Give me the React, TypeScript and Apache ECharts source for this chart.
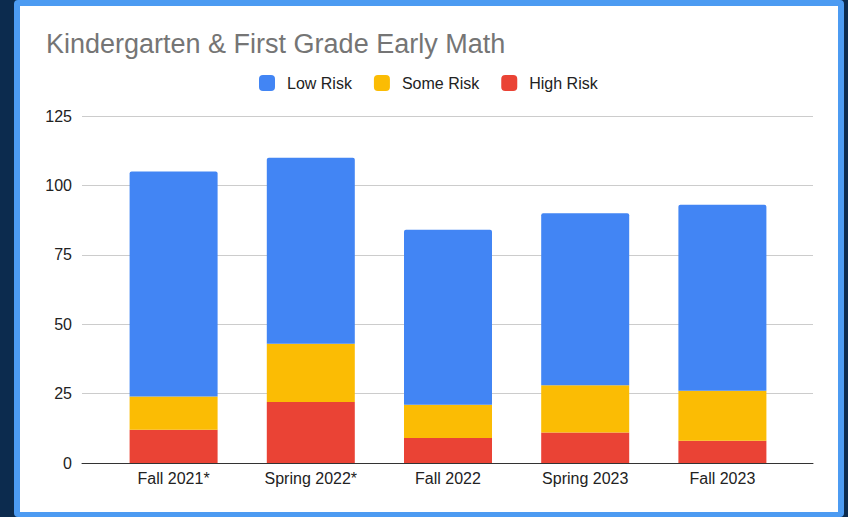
import React, { useEffect, useRef } from "react";
import * as echarts from "echarts";

const categories = ["Fall 2021*", "Spring 2022*", "Fall 2022", "Spring 2023", "Fall 2023"];
const highRisk = [12, 22, 9, 11, 8];
const someRisk = [12, 21, 12, 17, 18];
const lowRisk = [81, 67, 63, 62, 67];
const yTicks = [0, 25, 50, 75, 100, 125];

const FONT = "'Liberation Sans', Arial, sans-serif";

export default function App() {
  const ref = useRef<HTMLDivElement>(null);
  useEffect(() => {
    document.body.style.margin = "0";
    const chart = echarts.init(ref.current!, null, { renderer: "svg" });
    const yMin = yTicks[0];
    const yMax = yTicks[yTicks.length - 1];
    const yInt = yTicks[1] - yTicks[0];
    chart.setOption({
      animation: false,
      title: {
        text: "Kindergarten & First Grade Early Math",
        left: 46,
        top: 30,
        padding: 0,
        textStyle: { fontFamily: FONT, fontSize: 27, fontWeight: "normal", color: "#757575" },
      },
      legend: {
        left: 259,
        top: 75,
        padding: 0,
        itemWidth: 16,
        itemHeight: 16,
        itemGap: 22,
        icon: "roundRect",
        data: ["Low Risk", "Some Risk", "High Risk"],
        textStyle: { fontFamily: FONT, fontSize: 16, color: "#222222", padding: [0, 0, 0, 7] },
      },
      grid: [
        { left: 82, width: 731, top: 116, height: 347, containLabel: false },
        { left: 105, width: 686, top: 116, height: 347, containLabel: false },
      ],
      xAxis: [
        {
          type: "category",
          gridIndex: 0,
          data: categories,
          axisLine: { show: true, lineStyle: { color: "#333333", width: 1 } },
          axisTick: { show: false },
          axisLabel: { show: false },
          splitLine: { show: false },
        },
        {
          type: "category",
          gridIndex: 1,
          data: categories,
          axisLine: { show: false },
          axisTick: { show: false },
          axisLabel: { fontFamily: FONT, fontSize: 16, color: "#222222", margin: 7 },
        },
      ],
      yAxis: [
        {
          type: "value",
          gridIndex: 0,
          min: yMin,
          max: yMax,
          interval: yInt,
          axisLine: { show: false },
          axisTick: { show: false },
          axisLabel: { fontFamily: FONT, fontSize: 16, color: "#222222", margin: 10 },
          splitLine: { lineStyle: { color: "#cccccc", width: 1 } },
        },
        {
          type: "value",
          gridIndex: 1,
          min: yMin,
          max: yMax,
          interval: yInt,
          show: false,
          splitLine: { show: false },
        },
      ],
      series: [
        {
          name: "High Risk",
          type: "bar",
          stack: "total",
          xAxisIndex: 1,
          yAxisIndex: 1,
          barWidth: 88,
          data: highRisk,
          itemStyle: { color: "#EA4335" },
        },
        {
          name: "Some Risk",
          type: "bar",
          stack: "total",
          xAxisIndex: 1,
          yAxisIndex: 1,
          barWidth: 88,
          data: someRisk,
          itemStyle: { color: "#FBBC04" },
        },
        {
          name: "Low Risk",
          type: "bar",
          stack: "total",
          xAxisIndex: 1,
          yAxisIndex: 1,
          barWidth: 88,
          data: lowRisk,
          itemStyle: { color: "#4285F4", borderRadius: [2, 2, 0, 0] },
        },
      ],
    });
    return () => chart.dispose();
  }, []);

  return (
    <div style={{ position: "relative", width: 848, height: 517, background: "#0c2b4e", overflow: "hidden" }}>
      <div
        style={{
          position: "absolute",
          left: 14,
          top: 0,
          width: 830,
          height: 517,
          boxSizing: "border-box",
          borderStyle: "solid",
          borderColor: "#4c9bf2",
          borderWidth: "6px 6px 5px 6px",
          borderRadius: 4,
          background: "#ffffff",
        }}
      />
      <div ref={ref} style={{ position: "absolute", left: 0, top: 0, width: 848, height: 517 }} />
    </div>
  );
}
